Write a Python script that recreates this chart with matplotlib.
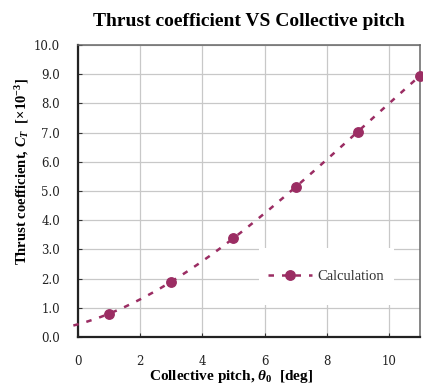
import numpy as np
import matplotlib
matplotlib.use("Agg")
import matplotlib.pyplot as plt
from matplotlib.patches import Rectangle

plt.rcParams["mathtext.fontset"] = "custom"
plt.rcParams["mathtext.it"] = "Liberation Serif:bold:italic"
plt.rcParams["mathtext.rm"] = "Liberation Serif:bold"
plt.rcParams["mathtext.bf"] = "Liberation Serif:bold"

# Collective pitch [deg] and computed thrust coefficient [x10^-3]
pitch_deg = [1, 3, 5, 7, 9, 11]
thrust_ct = [0.80, 1.89, 3.38, 5.15, 7.02, 8.95]

x_ticks = [0, 2, 4, 6, 8, 10]
y_ticks = [0.0, 1.0, 2.0, 3.0, 4.0, 5.0, 6.0, 7.0, 8.0, 9.0, 10.0]

color = "#9b2d63"

fig = plt.figure(figsize=(4.23, 3.88), dpi=100)
ax = fig.add_axes([78 / 423, 1 - 337 / 388, 342 / 423, 292 / 388])

# cubic trend through the computed points
coef = np.polyfit(pitch_deg, thrust_ct, 3)
xs = np.linspace(-0.15, 11, 200)
ax.plot(xs, np.polyval(coef, xs), color=color, lw=1.8,
        dashes=(2.2, 3.2), clip_on=False, zorder=3)
ax.plot(pitch_deg, thrust_ct, "o", color=color, ms=6.8, clip_on=False, zorder=4)

# legend handle: dashed line with marker
ax.plot([], [], color=color, lw=1.8, dashes=(2.2, 3.2), marker="o", ms=6.8,
        label="Calculation")

ax.set_xlim(0, 11)
ax.set_ylim(0, 10)
ax.set_xticks(x_ticks)
ax.set_yticks(y_ticks)
ax.set_xticklabels([str(v) for v in x_ticks], family="DejaVu Serif", fontsize=8.5)
ax.set_yticklabels([f"{v:.1f}" for v in y_ticks], family="DejaVu Serif", fontsize=8.5)
ax.tick_params(direction="in", length=3, width=0.8, colors="#333333",
               labelcolor="#222222")
ax.tick_params(axis="y", pad=13)
ax.tick_params(axis="x", pad=13)
ax.grid(True, color="#c8c8c8", lw=0.9)
ax.set_axisbelow(True)

for side in ("left", "bottom"):
    ax.spines[side].set_linewidth(1.6)
    ax.spines[side].set_color("#222222")
for side in ("top", "right"):
    ax.spines[side].set_linewidth(1.1)
    ax.spines[side].set_color("#666666")

ax.set_title("Thrust coefficient VS Collective pitch", family="Liberation Serif",
             fontweight="bold", fontsize=14, pad=14)
ax.set_xlabel(r"Collective pitch, $\theta_{\mathit{0}}$  [deg]",
              family="Liberation Serif", fontweight="bold", fontsize=11)
ax.set_ylabel(r"Thrust coefficient, $C_{T}$  [$\times$10$^{\mathrm{-3}}$]",
              family="Liberation Serif", fontweight="bold", fontsize=10.5)
ax.xaxis.set_label_coords(0.447, -0.105)
ax.yaxis.set_label_coords(-0.137, 0.568)

# white panel behind the legend
ax.add_patch(Rectangle((5.81, 1.10), 4.35, 1.95, facecolor="white",
                       edgecolor="none", zorder=2))
leg = ax.legend(loc="center", bbox_to_anchor=((5.81 + 2.17) / 11, 2.07 / 10),
                frameon=False, prop={"family": "Liberation Serif", "size": 10.5},
                handlelength=3.0, handletextpad=0.4)
for t in leg.get_texts():
    t.set_color("#333333")

fig.savefig("out.png", dpi=100)
